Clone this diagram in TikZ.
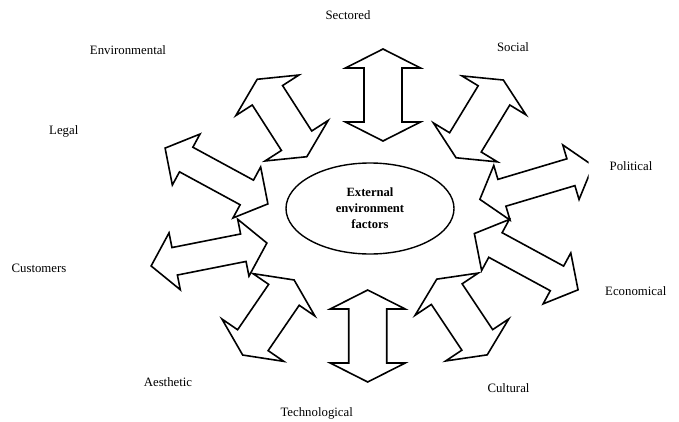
\documentclass[tikz,border=0pt]{standalone}
\usepackage{fontspec}
\setmainfont{Liberation Serif}
\usetikzlibrary{shapes.geometric}
\begin{document}
\begin{tikzpicture}[x=1pt,y=1pt,
every node/.style={inner sep=0pt},
factor/.style={anchor=base,font=\fontsize{12.8}{15}\selectfont},
hub/.style={draw,ellipse,line width=1.4pt,minimum width=168pt,minimum height=91pt,
  align=center,font=\fontsize{12.6}{16}\selectfont\bfseries},
pics/blockarrow/.style n args={4}{code={
  \draw[line width=1.6pt]
    ({-#1/2},0) -- ({-#1/2+#4},{#2/2}) -- ({-#1/2+#4},{#3/2}) -- ({#1/2-#4},{#3/2})
    -- ({#1/2-#4},{#2/2}) -- ({#1/2},0) -- ({#1/2-#4},{-#2/2}) -- ({#1/2-#4},{-#3/2})
    -- ({-#1/2+#4},{-#3/2}) -- ({-#1/2+#4},{-#2/2}) -- cycle;
}}]

\useasboundingbox (0,0) rectangle (679,421);

\node[hub] (core) at (370,212.5) {External\\environment\\factors};

\pic[rotate=90]    at (383,326)     {blockarrow={92}{75}{38}{19}};
\pic[rotate=58.7]  at (479.7,302.1) {blockarrow={91}{75}{37}{18}};
\begin{scope}
\clip (0,0) rectangle (588.5,421);
\pic[rotate=16.6]  at (536.4,238.5) {blockarrow={118}{57}{28}{23}};
\end{scope}
\pic[rotate=151.5] at (526.2,159.3) {blockarrow={118}{58}{28}{24}};
\pic[rotate=123.7] at (462,104)     {blockarrow={91}{76}{37}{18}};
\pic[rotate=90]    at (367.7,85)    {blockarrow={92}{75}{38}{19}};
\pic[rotate=55.6]  at (268.4,103.5) {blockarrow={91}{75}{37}{18}};
\pic[rotate=11.2]  at (209,166.5)   {blockarrow={118}{58}{28}{24}};
\pic[rotate=151.5] at (216.5,245)   {blockarrow={117}{58}{28}{24}};
\pic[rotate=122.7] at (282,303)     {blockarrow={92}{75}{36}{19}};

\node[factor] (sectored) at (348,401) {Sectored};
\node[factor] (social) at (513,369.3) {Social};
\node[factor] (political) at (631,251) {Political};
\node[factor] (economical) at (635.8,126) {Economical};
\node[factor] (cultural) at (508.5,28.5) {Cultural};
\node[factor] (technological) at (316.7,4.5) {Technological};
\node[factor] (aesthetic) at (168,35) {Aesthetic};
\node[factor] (customers) at (39,148.7) {Customers};
\node[factor] (legal) at (63.8,286.3) {Legal};
\node[factor] (environmental) at (128,366) {Environmental};

\end{tikzpicture}
\end{document}
